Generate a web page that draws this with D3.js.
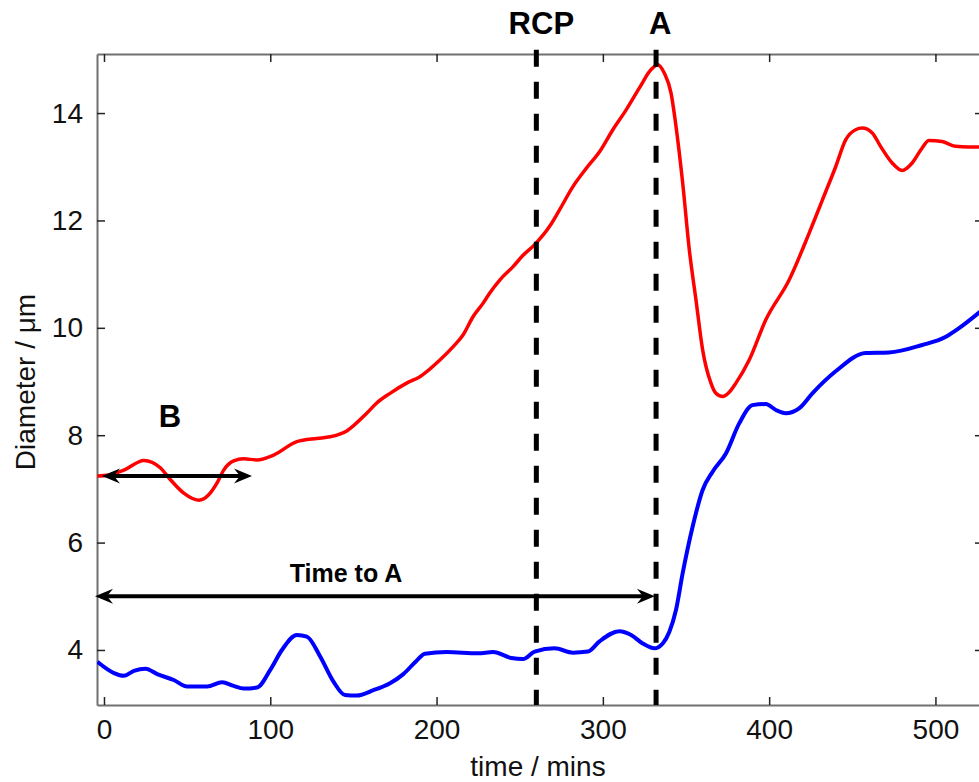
<!DOCTYPE html>
<html>
<head>
<meta charset="utf-8">
<script src="https://cdn.jsdelivr.net/npm/d3@7"></script>
<style>
  body { margin: 0; background: #fff; }
  svg { display: block; font-family: Arial, "Liberation Sans", sans-serif; }
</style>
</head>
<body>
<svg id="chart"></svg>
<script>
// red trace (time / mins, diameter / um)
let redTime = [-4, 3, 12, 24, 34, 40, 48, 57, 63, 68, 72, 78, 84, 92, 102, 116, 128, 136, 146, 158, 164, 172, 182, 190, 202, 210, 216, 222, 228, 232, 238, 246, 252, 259, 268, 274, 282, 290, 298, 306, 314, 322, 329, 333, 337, 341, 344, 348, 352, 356, 360, 365, 368, 372, 376, 380, 388, 398, 412, 424, 432, 440, 446, 452, 456, 462, 467, 474, 480, 486, 492, 496, 504, 512, 520, 530];
let redDiam = [7.24, 7.26, 7.35, 7.53, 7.39, 7.17, 6.92, 6.79, 6.89, 7.11, 7.35, 7.52, 7.56, 7.54, 7.63, 7.88, 7.94, 7.97, 8.08, 8.41, 8.6, 8.78, 8.97, 9.09, 9.4, 9.65, 9.87, 10.21, 10.46, 10.65, 10.89, 11.14, 11.35, 11.55, 11.89, 12.2, 12.63, 12.97, 13.28, 13.69, 14.06, 14.47, 14.81, 14.9, 14.74, 14.37, 13.75, 12.7, 11.45, 10.52, 9.59, 8.97, 8.78, 8.72, 8.8, 8.97, 9.4, 10.15, 10.89, 11.76, 12.38, 13.0, 13.5, 13.69, 13.72, 13.63, 13.38, 13.07, 12.93, 13.07, 13.35, 13.49, 13.47, 13.38, 13.37, 13.37];

// blue trace
let blueTime = [-4, 6, 12, 18, 25, 32, 42, 50, 62, 71, 78, 84, 92, 100, 107, 116, 122, 130, 138, 145, 152, 162, 172, 180, 188, 193, 206, 225, 234, 245, 252, 259, 271, 282, 291, 298, 310, 317, 324, 331, 336, 340, 344, 348, 354, 360, 366, 374, 382, 390, 398, 404, 410, 418, 426, 440, 458, 472, 492, 506, 514, 530];
let blueDiam = [3.78, 3.57, 3.52, 3.61, 3.65, 3.55, 3.44, 3.32, 3.32, 3.4, 3.33, 3.28, 3.3, 3.63, 4.0, 4.28, 4.25, 3.88, 3.41, 3.16, 3.15, 3.25, 3.38, 3.55, 3.8, 3.93, 3.96, 3.94, 3.96, 3.85, 3.83, 3.97, 4.03, 3.95, 3.97, 4.16, 4.35, 4.28, 4.12, 4.03, 4.12, 4.34, 4.75, 5.43, 6.3, 6.98, 7.32, 7.66, 8.22, 8.56, 8.58, 8.47, 8.41, 8.5, 8.78, 9.19, 9.53, 9.54, 9.68, 9.83, 9.99, 10.38];

let xTicks = [0, 100, 200, 300, 400, 500];
let yTicks = [4, 6, 8, 10, 12, 14];

// vertical event markers
let eventTime = [260, 332];
let eventLabel = ["RCP", "A"];

// double arrows: [t start, t end, diameter]
let arrowB = [-1.2, 89, 7.24];
let arrowTimeToA = [-5.4, 331.3, 5.0];

const svgWidth = 979, svgHeight = 782;
const plot = { left: 97, right: 983, top: 54, bottom: 705 };

let svg = d3.select("#chart").attr("width", svgWidth).attr("height", svgHeight);

let x = d3.scaleLinear().domain([-4.2, 528.6]).range([plot.left, plot.right]);
let y = d3.scaleLinear().domain([2.975, 15.1]).range([plot.bottom, plot.top]);

svg.append("defs").append("clipPath").attr("id", "clip")
    .append("rect")
    .attr("x", plot.left).attr("y", plot.top)
    .attr("width", plot.right - plot.left).attr("height", plot.bottom - plot.top);

// axes, ticks inside like matlab
let tickLen = 8;
let axisColor = "#707070";

let gx = svg.append("g").attr("transform", `translate(0,${plot.bottom})`)
    .call(d3.axisBottom(x).tickValues(xTicks).tickSizeInner(-tickLen).tickSizeOuter(0).tickPadding(14));
let gxTop = svg.append("g").attr("transform", `translate(0,${plot.top})`)
    .call(d3.axisTop(x).tickValues(xTicks).tickSizeInner(-tickLen).tickSizeOuter(0).tickFormat(""));
let gy = svg.append("g").attr("transform", `translate(${plot.left},0)`)
    .call(d3.axisLeft(y).tickValues(yTicks).tickSizeInner(-tickLen).tickSizeOuter(0).tickPadding(14));
let gyRight = svg.append("g").attr("transform", `translate(${plot.right},0)`)
    .call(d3.axisRight(y).tickValues(yTicks).tickSizeInner(-tickLen).tickSizeOuter(0).tickFormat(""));

[gx, gxTop, gy, gyRight].forEach(function (g) {
    g.select(".domain").attr("stroke", axisColor).attr("stroke-width", 2);
    g.selectAll(".tick line").attr("stroke", "#222").attr("stroke-width", 1.5);
    g.selectAll(".tick text").attr("font-size", 28).attr("fill", "#111")
        .attr("font-family", "Arial, 'Liberation Sans', sans-serif");
});

// axis labels
svg.append("text")
    .attr("x", 538).attr("y", 776)
    .attr("text-anchor", "middle").attr("font-size", 28).attr("fill", "#111")
    .text("time / mins");

svg.append("text")
    .attr("transform", "translate(35,382) rotate(-90)")
    .attr("text-anchor", "middle").attr("font-size", 28).attr("fill", "#111")
    .text("Diameter / \u03bcm");

// traces
let line = d3.line()
    .x(function (d) { return x(d[0]); })
    .y(function (d) { return y(d[1]); })
    .curve(d3.curveMonotoneX);

let red = d3.zip(redTime, redDiam);
let blue = d3.zip(blueTime, blueDiam);

let traces = svg.append("g").attr("clip-path", "url(#clip)");
traces.append("path").datum(red)
    .attr("d", line).attr("fill", "none").attr("stroke", "#ff0000")
    .attr("stroke-width", 3.5).attr("stroke-linejoin", "round");
traces.append("path").datum(blue)
    .attr("d", line).attr("fill", "none").attr("stroke", "#0000ff")
    .attr("stroke-width", 4).attr("stroke-linejoin", "round");

// dashed event lines
svg.selectAll(".event").data(eventTime).enter()
    .append("line")
    .attr("class", "event")
    .attr("x1", function (d) { return x(d); }).attr("x2", function (d) { return x(d); })
    .attr("y1", y(15.18)).attr("y2", plot.bottom)
    .attr("stroke", "#000").attr("stroke-width", 5)
    .attr("stroke-dasharray", "17,15");

svg.selectAll(".eventLabel").data(eventTime).enter()
    .append("text")
    .attr("class", "eventLabel")
    .attr("x", function (d, i) { return x(d) + (i === 0 ? 5 : 4); })
    .attr("y", 34)
    .attr("text-anchor", "middle").attr("font-size", 31).attr("font-weight", "bold")
    .text(function (d, i) { return eventLabel[i]; });

// double headed arrows
function arrowHead(tx, ty, dir) {
    // dir = -1 points left, 1 points right
    let L = 18, H = 7.5, N = 12;
    return `M${tx},${ty} L${tx - dir * L},${ty - H} L${tx - dir * N},${ty} L${tx - dir * L},${ty + H} Z`;
}

function doubleArrow(a) {
    let x0 = x(a[0]), x1 = x(a[1]), yy = y(a[2]);
    let g = svg.append("g");
    g.append("line")
        .attr("x1", x0 + 8).attr("x2", x1 - 8).attr("y1", yy).attr("y2", yy)
        .attr("stroke", "#000").attr("stroke-width", 4);
    g.append("path").attr("d", arrowHead(x0, yy, -1)).attr("fill", "#000");
    g.append("path").attr("d", arrowHead(x1, yy, 1)).attr("fill", "#000");
}

doubleArrow(arrowB);
doubleArrow(arrowTimeToA);

svg.append("text")
    .attr("x", 170).attr("y", 427)
    .attr("text-anchor", "middle").attr("font-size", 31).attr("font-weight", "bold")
    .text("B");

svg.append("text")
    .attr("x", 346).attr("y", 582)
    .attr("text-anchor", "middle").attr("font-size", 25).attr("font-weight", "bold")
    .text("Time to A");
</script>
</body>
</html>
